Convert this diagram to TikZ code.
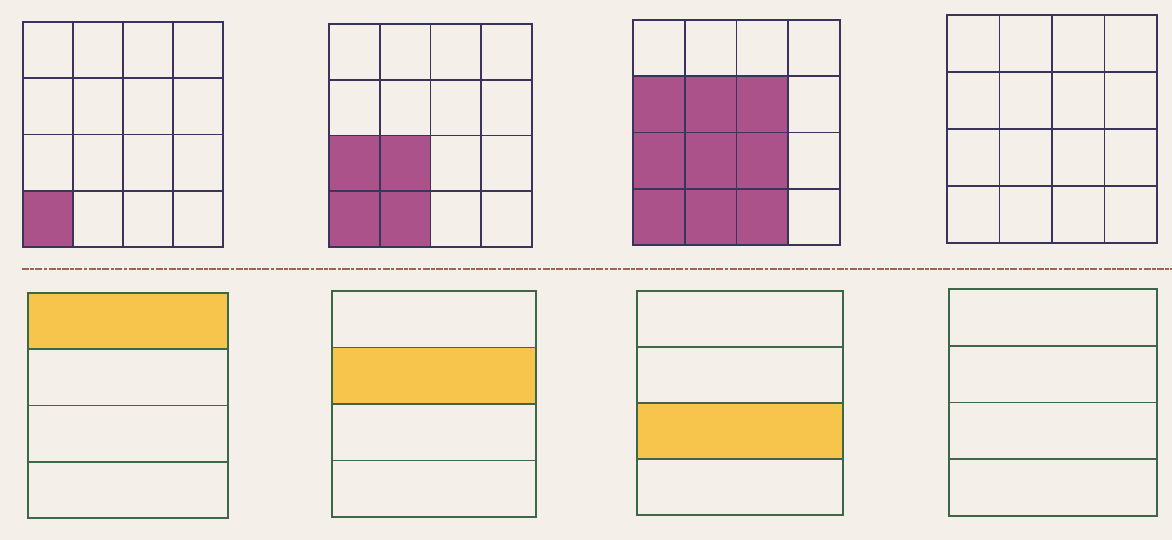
\documentclass[tikz,border=0pt]{standalone}
\usepackage{xcolor}
\usetikzlibrary{positioning}

\definecolor{paper}{RGB}{244,239,232}
\definecolor{gridline}{RGB}{58,52,92}
\definecolor{bandline}{RGB}{62,102,72}
\definecolor{plum}{RGB}{172,82,138}
\definecolor{amber}{RGB}{247,196,76}
\definecolor{foldline}{RGB}{160,100,85}

\begin{document}
\begin{tikzpicture}[
  x=0.02cm, y=-0.02cm,
  cell/.style={draw=gridline, line width=1.1pt},
  band/.style={draw=bandline, line width=1.1pt},
  plumfill/.style={fill=plum},
  amberfill/.style={fill=amber},
  fold/.style={draw=foldline, line width=1pt, dash pattern=on 4pt off 0.8pt on 2pt off 0.8pt}
]
  \fill[paper] (0,0) rectangle (1172,540);
  \useasboundingbox (0,0) rectangle (1172,540);

  % top row: 4x4 squares, k x k block shaded from the lower left
  \foreach \xa/\ya/\xb/\yb/\k in {23/22/223/247/1, 329/24/532/247/2, 633/20/840/245/3, 947/15/1157/243/0} {
    \pgfmathsetmacro{\w}{(\xb-\xa)/4}
    \pgfmathsetmacro{\h}{(\yb-\ya)/4}
    \ifnum\k>0 \fill[plumfill] (\xa,\yb-\k*\h) rectangle (\xa+\k*\w,\yb); \fi
    \foreach \i in {1,2,3} {
      \draw[cell] (\xa+\i*\w,\ya) -- (\xa+\i*\w,\yb);
      \draw[cell] (\xa,\ya+\i*\h) -- (\xb,\ya+\i*\h);
    }
    \draw[cell] (\xa,\ya) rectangle (\xb,\yb);
  }

  \draw[fold] (22,269) -- (1172,269);

  % bottom row: 4 strips, one of them shaded
  \foreach \xa/\ya/\xb/\yb/\k in {28/293/228/518/0, 332/291/536/517/1, 637/291/843/515/2, 949/289/1157/516/-1} {
    \pgfmathsetmacro{\h}{(\yb-\ya)/4}
    \ifnum\k>-1 \fill[amberfill] (\xa,\ya+\k*\h) rectangle (\xb,\ya+\k*\h+\h); \fi
    \foreach \i in {1,2,3}
      \draw[band] (\xa,\ya+\i*\h) -- (\xb,\ya+\i*\h);
    \draw[band] (\xa,\ya) rectangle (\xb,\yb);
  }
\end{tikzpicture}
\end{document}
